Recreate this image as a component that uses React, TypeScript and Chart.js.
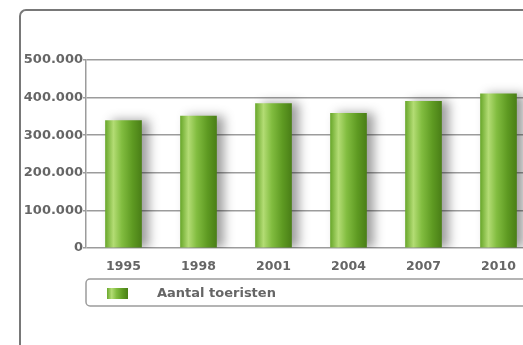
import React, { useEffect, useRef } from "react";
import { Chart, registerables } from "chart.js";

Chart.register(...registerables);

const years = ["1995", "1998", "2001", "2004", "2007", "2010"];
const tourists = [339000, 351000, 384000, 358000, 390000, 410000];
const seriesLabel = "Aantal toeristen";
const yTickValues = [0, 100000, 200000, 300000, 400000, 500000];

const BAR_W = 36;
const TEXT = "#666666";
const GRID = "#9c9c9c";

function fmt(v: number): string {
  const s = String(Math.round(v));
  return s.replace(/\B(?=(\d{3})+(?!\d))/g, ".");
}

function barGradient(ctx: CanvasRenderingContext2D, x0: number, x1: number) {
  const g = ctx.createLinearGradient(x0, 0, x1, 0);
  g.addColorStop(0, "#6aa82c");
  g.addColorStop(0.22, "#b3dc74");
  g.addColorStop(0.45, "#82bd40");
  g.addColorStop(0.75, "#5e9a22");
  g.addColorStop(1, "#4a7f17");
  return g;
}

const shadowPlugin = {
  id: "barShadow",
  beforeDatasetsDraw(chart: any) {
    const ctx = chart.ctx;
    ctx.save();
    ctx.shadowColor = "rgba(0,0,0,0.38)";
    ctx.shadowBlur = 10;
    ctx.shadowOffsetX = 7;
    ctx.shadowOffsetY = 0;
  },
  afterDatasetsDraw(chart: any) {
    chart.ctx.restore();
  },
};

const legendPlugin = {
  id: "boxLegend",
  afterDraw(chart: any) {
    const ctx: CanvasRenderingContext2D = chart.ctx;
    const left = chart.chartArea.left;
    ctx.save();
    ctx.strokeStyle = GRID;
    ctx.lineWidth = 1.5;
    ctx.beginPath();
    (ctx as any).roundRect(left, 279, 700, 27, 4);
    ctx.stroke();
    ctx.fillStyle = barGradient(ctx, left + 21, left + 42);
    ctx.fillRect(left + 21, 288, 21, 11);
    ctx.fillStyle = TEXT;
    ctx.font = "bold 13px 'DejaVu Sans'";
    ctx.textBaseline = "middle";
    ctx.textAlign = "left";
    ctx.fillText(seriesLabel, left + 71, 293.5);
    ctx.restore();
  },
};

export default function App() {
  const ref = useRef<HTMLCanvasElement>(null);

  useEffect(() => {
    if (!ref.current) return;
    const chart = new Chart(ref.current, {
      type: "bar",
      data: {
        labels: years,
        datasets: [
          {
            label: seriesLabel,
            data: tourists,
            barThickness: BAR_W,
            borderWidth: 0,
            backgroundColor: (c: any) => {
              const ch = c.chart;
              const xs = ch.scales && ch.scales.x;
              if (!ch.chartArea || !xs) return "#7ab83a";
              const x = xs.getPixelForValue(c.dataIndex);
              return barGradient(ch.ctx, x - BAR_W / 2, x + BAR_W / 2);
            },
          },
        ],
      },
      options: {
        responsive: false,
        animation: false,
        layout: { padding: { left: 0, top: 60, right: 9, bottom: 0 } },
        plugins: {
          legend: { display: false },
          tooltip: { enabled: false },
        },
        scales: {
          x: {
            grid: { display: false },
            border: { display: false },
            ticks: {
              color: TEXT,
              font: { family: "'DejaVu Sans'", size: 12.5, weight: "bold" },
              padding: 3,
            },
            afterFit: (s: any) => {
              s.height = 97;
            },
          },
          y: {
            min: 0,
            max: 500000,
            afterBuildTicks: (s: any) => {
              s.ticks = yTickValues.map((v) => ({ value: v }));
            },
            grid: {
              color: GRID,
              lineWidth: 1.5,
              tickLength: 3,
            },
            border: { display: true, color: GRID, width: 1.5 },
            ticks: {
              color: TEXT,
              padding: 0,
              font: { family: "'DejaVu Sans'", size: 13, weight: "bold" },
              callback: (v: any) => fmt(Number(v)),
            },
            afterFit: (s: any) => {
              s.width = 86;
            },
          },
        },
      },
      plugins: [shadowPlugin, legendPlugin],
    });
    return () => chart.destroy();
  }, []);

  return (
    <div
      style={{
        position: "fixed",
        left: 0,
        top: 0,
        width: 523,
        height: 345,
        overflow: "hidden",
        background: "#fff",
      }}
    >
      <canvas
        ref={ref}
        width={545}
        height={345}
        style={{ position: "absolute", left: 0, top: 0, width: 545, height: 345 }}
      />
      <div
        style={{
          position: "absolute",
          left: 19,
          top: 9,
          width: 700,
          height: 500,
          borderLeft: "2px solid #787878",
          borderTop: "2px solid #787878",
          borderTopLeftRadius: 7,
          pointerEvents: "none",
        }}
      />
    </div>
  );
}
